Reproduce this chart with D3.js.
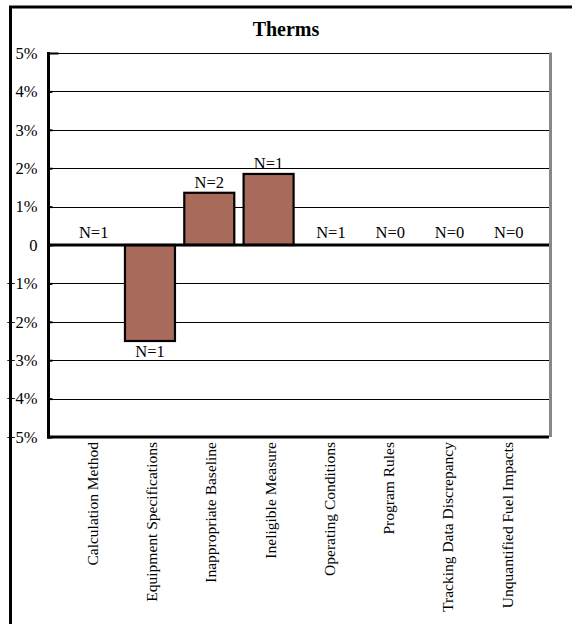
<!DOCTYPE html>
<html>
<head>
<meta charset="utf-8">
<script src="https://cdn.jsdelivr.net/npm/d3@7"></script>
<style>
  html, body { margin: 0; padding: 0; background: #fff; }
  svg { display: block; }
  text { font-family: "Liberation Serif", "Times New Roman", serif; fill: #000; }
</style>
</head>
<body>
<svg id="chart" width="572" height="624"></svg>
<script>
// Realization-rate adjustments by discrepancy category (therms)
const categories = [
  "Calculation Method",
  "Equipment Specifications",
  "Inappropriate Baseline",
  "Ineligible Measure",
  "Operating Conditions",
  "Program Rules",
  "Tracking Data Discrepancy",
  "Unquantified Fuel Impacts"
];
const values = [0, -0.025, 0.0136, 0.0185, 0, 0, 0, 0];
const counts = [1, 1, 2, 1, 1, 0, 0, 0];
const yTicks = [0.05, 0.04, 0.03, 0.02, 0.01, 0, -0.01, -0.02, -0.03, -0.04, -0.05];
const title = "Therms";

const svg = d3.select("#chart");

const plot = { left: 48.5, right: 550, top: 53, bottom: 437 };

const x = d3.scaleBand()
  .domain(categories)
  .range([61, 535.5])
  .paddingInner(0.157)
  .paddingOuter(0.0785);

const y = d3.scaleLinear()
  .domain([-0.05, 0.05])
  .range([plot.bottom, plot.top]);

const fmt = v => v === 0 ? "0" : d3.format(".0%")(v);

// outer frame (top and left edges)
svg.append("line")
  .attr("x1", 9).attr("x2", 572).attr("y1", 7).attr("y2", 7)
  .attr("stroke", "#000").attr("stroke-width", 3);
svg.append("line")
  .attr("x1", 10.5).attr("x2", 10.5).attr("y1", 6).attr("y2", 624)
  .attr("stroke", "#000").attr("stroke-width", 3);

// title
svg.append("text")
  .attr("x", 286).attr("y", 36)
  .attr("text-anchor", "middle")
  .attr("font-size", 20)
  .attr("font-weight", "bold")
  .text(title);

// horizontal gridlines
svg.append("g")
  .selectAll("line")
  .data(yTicks.filter(t => t !== 0 && t !== -0.05))
  .join("line")
  .attr("x1", plot.left).attr("x2", plot.right)
  .attr("y1", d => Math.round(y(d)) + 0.5).attr("y2", d => Math.round(y(d)) + 0.5)
  .attr("stroke", "#000").attr("stroke-width", 1.2);

// right edge of plot area
svg.append("line")
  .attr("x1", 550.5).attr("x2", 550.5).attr("y1", plot.top - 0.5).attr("y2", plot.bottom)
  .attr("stroke", "#888").attr("stroke-width", 3);

// y axis built with d3.axisLeft, restyled
const yAxis = d3.axisLeft(y)
  .tickValues(yTicks)
  .tickFormat(fmt)
  .tickSize(-4)
  .tickPadding(0);

const gy = svg.append("g")
  .attr("transform", `translate(${plot.left},0)`)
  .call(yAxis);
gy.select(".domain").remove();
gy.selectAll(".tick line").attr("stroke", "#000").attr("stroke-width", 2);
gy.selectAll(".tick text")
  .attr("x", -11)
  .attr("font-size", 16.5)
  .attr("font-family", "'Liberation Serif', 'Times New Roman', serif")
  .attr("fill", "#000");
gy.selectAll(".tick").filter(d => d === 0.05).select("line").attr("x2", 10);

// bars
svg.append("g")
  .selectAll("rect")
  .data(categories.map((c, i) => ({ c, v: values[i], n: counts[i] })).filter(d => d.v !== 0))
  .join("rect")
  .attr("x", d => x(d.c))
  .attr("width", x.bandwidth())
  .attr("y", d => Math.min(y(d.v), y(0)))
  .attr("height", d => Math.abs(y(d.v) - y(0)))
  .attr("fill", "#a86b5b")
  .attr("stroke", "#000")
  .attr("stroke-width", 2.2);

// zero baseline and bottom edge
svg.append("line")
  .attr("x1", plot.left).attr("x2", 549)
  .attr("y1", y(0)).attr("y2", y(0))
  .attr("stroke", "#000").attr("stroke-width", 3.2);
svg.append("line")
  .attr("x1", plot.left - 1.5).attr("x2", 549)
  .attr("y1", y(-0.05)).attr("y2", y(-0.05))
  .attr("stroke", "#000").attr("stroke-width", 3.2);

// y axis line
svg.append("line")
  .attr("x1", plot.left).attr("x2", plot.left)
  .attr("y1", plot.top - 1).attr("y2", plot.bottom + 1.5)
  .attr("stroke", "#000").attr("stroke-width", 3);

// count labels
svg.append("g")
  .selectAll("text")
  .data(categories.map((c, i) => ({ c, v: values[i], n: counts[i] })))
  .join("text")
  .attr("x", d => x(d.c) + x.bandwidth() / 2 + (d.v === 0 ? 3 : 0))
  .attr("y", d => d.v > 0 ? y(d.v) - 5 : d.v < 0 ? y(d.v) + 16 : y(0) - 7)
  .attr("text-anchor", "middle")
  .attr("font-size", 16.5)
  .text(d => "N=" + d.n);

// rotated category labels
svg.append("g")
  .selectAll("text")
  .data(categories)
  .join("text")
  .attr("transform", d => `translate(${x(d) + x.bandwidth() / 2 + 1.5},442) rotate(-90)`)
  .attr("dy", "0.35em")
  .attr("text-anchor", "end")
  .attr("font-size", 15.5)
  .text(d => d);
</script>
</body>
</html>
